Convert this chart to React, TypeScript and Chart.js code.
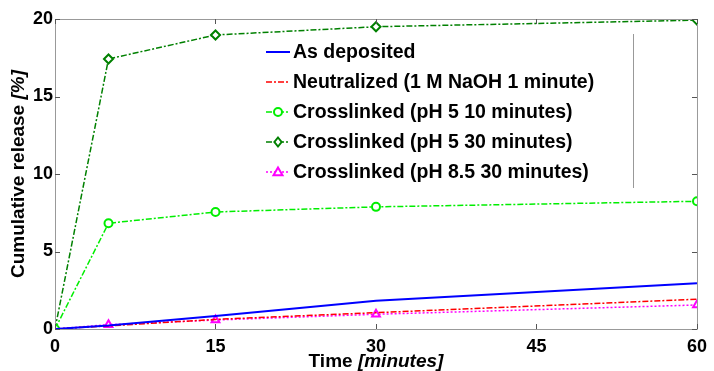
import React, { useEffect, useRef } from "react";
import { Chart, registerables } from "chart.js";

Chart.register(...registerables);

const timePoints = [0, 5, 15, 30, 60];
const asDeposited = [0, 0.22, 0.84, 1.82, 2.95];
const neutralized = [0, 0.2, 0.62, 1.05, 1.92];
const crossPH5_10 = [0, 6.82, 7.55, 7.88, 8.24];
const crossPH5_30 = [0, 17.42, 18.97, 19.5, 19.93];
const crossPH85_30 = [0, 0.28, 0.58, 0.95, 1.55];
const xTicks = [0, 15, 30, 45, 60];
const yTicks = [0, 5, 10, 15, 20];
const seriesLabels = [
  "As deposited",
  "Neutralized (1 M NaOH 1 minute)",
  "Crosslinked (pH 5 10 minutes)",
  "Crosslinked (pH 5 30 minutes)",
  "Crosslinked (pH 8.5 30 minutes)",
];
const xTitleMain = "Time ";
const xTitleUnit = "[minutes]";
const yTitleMain = "Cumulative release ";
const yTitleUnit = "[%]";

const FONT = "'Liberation Sans', Arial, sans-serif";

const framePlugin = {
  id: "matlabFrame",
  afterDatasetsDraw(chart: any) {
    const ctx = chart.ctx as CanvasRenderingContext2D;
    const a = chart.chartArea;
    const xs = chart.scales.x;
    const ys = chart.scales.y;
    ctx.save();
    // box
    ctx.strokeStyle = "#999999";
    ctx.lineWidth = 1;
    ctx.setLineDash([]);
    ctx.beginPath();
    ctx.rect(a.left + 0.5, a.top + 0.5, a.right - a.left, a.bottom - a.top);
    ctx.stroke();
    // inward ticks
    ctx.strokeStyle = "#555555";
    ctx.beginPath();
    const tl = 5;
    xTicks.forEach((v) => {
      const px = Math.round(xs.getPixelForValue(v)) + 0.5;
      ctx.moveTo(px, a.bottom);
      ctx.lineTo(px, a.bottom - tl);
      ctx.moveTo(px, a.top);
      ctx.lineTo(px, a.top + tl);
    });
    yTicks.forEach((v) => {
      const py = Math.round(ys.getPixelForValue(v)) + 0.5;
      ctx.moveTo(a.left, py);
      ctx.lineTo(a.left + tl, py);
      ctx.moveTo(a.right, py);
      ctx.lineTo(a.right - tl, py);
    });
    ctx.stroke();

    // axis titles
    ctx.fillStyle = "#000";
    ctx.textBaseline = "alphabetic";
    ctx.textAlign = "left";
    const fMain = `bold 19px ${FONT}`;
    const fIt = `italic bold 19px ${FONT}`;
    ctx.font = fMain;
    const w1 = ctx.measureText(xTitleMain).width;
    ctx.font = fIt;
    const w2 = ctx.measureText(xTitleUnit).width;
    const cx = (a.left + a.right) / 2;
    let sx = cx - (w1 + w2) / 2;
    ctx.font = fMain;
    ctx.fillText(xTitleMain, sx, chart.height - 4);
    ctx.font = fIt;
    ctx.fillText(xTitleUnit, sx + w1, chart.height - 4);

    ctx.font = fMain;
    const v1 = ctx.measureText(yTitleMain).width;
    ctx.font = fIt;
    const v2 = ctx.measureText(yTitleUnit).width;
    const cy = (a.top + a.bottom) / 2;
    ctx.save();
    ctx.translate(24, cy);
    ctx.rotate(-Math.PI / 2);
    const sy = -(v1 + v2) / 2;
    ctx.font = fMain;
    ctx.fillText(yTitleMain, sy, 0);
    ctx.font = fIt;
    ctx.fillText(yTitleUnit, sy + v1, 0);
    ctx.restore();

    // legend
    const lx0 = a.left + 211;
    const lx1 = lx0 + 24;
    const ly0 = a.top + 33;
    const rowH = 30;
    chart.data.datasets.forEach((ds: any, i: number) => {
      const y = ly0 + i * rowH;
      ctx.strokeStyle = ds.borderColor;
      ctx.lineWidth = ds.borderWidth;
      ctx.setLineDash(ds.borderDash || []);
      ctx.beginPath();
      ctx.moveTo(lx0, y);
      ctx.lineTo(lx1, y);
      ctx.stroke();
      ctx.setLineDash([]);
      if (ds.pointRadius > 0) {
        const r = ds.pointRadius;
        const mx = (lx0 + lx1) / 2;
        ctx.lineWidth = ds.pointBorderWidth;
        ctx.fillStyle = "#fff";
        ctx.beginPath();
        if (ds.pointStyle === "circle") {
          ctx.arc(mx, y, r, 0, Math.PI * 2);
        } else if (ds.pointStyle === "rectRot") {
          ctx.moveTo(mx, y - r);
          ctx.lineTo(mx + r * 0.8, y);
          ctx.lineTo(mx, y + r);
          ctx.lineTo(mx - r * 0.8, y);
          ctx.closePath();
        } else if (ds.pointStyle === "triangle") {
          ctx.moveTo(mx, y - r);
          ctx.lineTo(mx + r, y + r * 0.7);
          ctx.lineTo(mx - r, y + r * 0.7);
          ctx.closePath();
        }
        ctx.fill();
        ctx.stroke();
      }
      ctx.fillStyle = "#000";
      ctx.font = `bold 19.5px ${FONT}`;
      ctx.textBaseline = "middle";
      ctx.fillText(ds.label, lx1 + 3, y + 1);
    });
    // legend box right edge
    ctx.strokeStyle = "#999999";
    ctx.lineWidth = 1;
    ctx.beginPath();
    ctx.moveTo(a.left + 578.5, a.top + 15);
    ctx.lineTo(a.left + 578.5, a.top + 169);
    ctx.stroke();
    ctx.restore();
  },
};

export default function App() {
  const ref = useRef<HTMLCanvasElement>(null);
  useEffect(() => {
    document.body.style.margin = "0";
    const mk = (i: number, data: number[], color: string, width: number, dash: number[], style: any, r: number) => ({
      label: seriesLabels[i],
      data: timePoints.map((t, k) => ({ x: t, y: data[k] })),
      borderColor: color,
      backgroundColor: "#fff",
      borderWidth: width,
      borderDash: dash,
      pointStyle: style,
      pointRadius: r,
      pointBorderWidth: 2,
      pointBackgroundColor: "#fff",
      pointBorderColor: color,
      tension: 0,
      fill: false,
    });
    const chart = new Chart(ref.current!, {
      type: "line",
      data: {
        datasets: [
          mk(0, asDeposited, "#0000ff", 2, [], "circle", 0),
          mk(1, neutralized, "#ff0000", 1.5, [6, 2, 2, 2], "circle", 0),
          mk(2, crossPH5_10, "#00ee00", 1.5, [6, 2, 2, 2], "circle", 4),
          mk(3, crossPH5_30, "#008000", 1.5, [6, 2, 2, 2], "rectRot", 4.5),
          mk(4, crossPH85_30, "#ff00ff", 1.5, [2, 2], "triangle", 4.5),
        ] as any,
      },
      options: {
        animation: false,
        responsive: false,
        layout: { padding: { left: 0, top: 19, right: 13, bottom: 0 } },
        plugins: { legend: { display: false }, tooltip: { enabled: false } },
        scales: {
          x: {
            type: "linear",
            min: 0,
            max: 60,
            afterFit: (s: any) => { s.height = 42; },
            afterBuildTicks: (s: any) => { s.ticks = xTicks.map((v) => ({ value: v })); },
            grid: { display: false, drawTicks: false },
            border: { display: false },
            ticks: { color: "#000", padding: 7, font: { family: FONT, size: 18, weight: "bold" } },
          },
          y: {
            type: "linear",
            min: 0,
            max: 20,
            afterFit: (s: any) => { s.width = 55; },
            afterBuildTicks: (s: any) => { s.ticks = yTicks.map((v) => ({ value: v })); },
            grid: { display: false, drawTicks: false },
            border: { display: false },
            ticks: { color: "#000", padding: 2, font: { family: FONT, size: 18, weight: "bold" } },
          },
        },
      } as any,
      plugins: [framePlugin],
    });
    return () => chart.destroy();
  }, []);
  return (
    <div style={{ width: 714, height: 371, background: "#fff" }}>
      <canvas ref={ref} width={714} height={371} style={{ display: "block" }} />
    </div>
  );
}
